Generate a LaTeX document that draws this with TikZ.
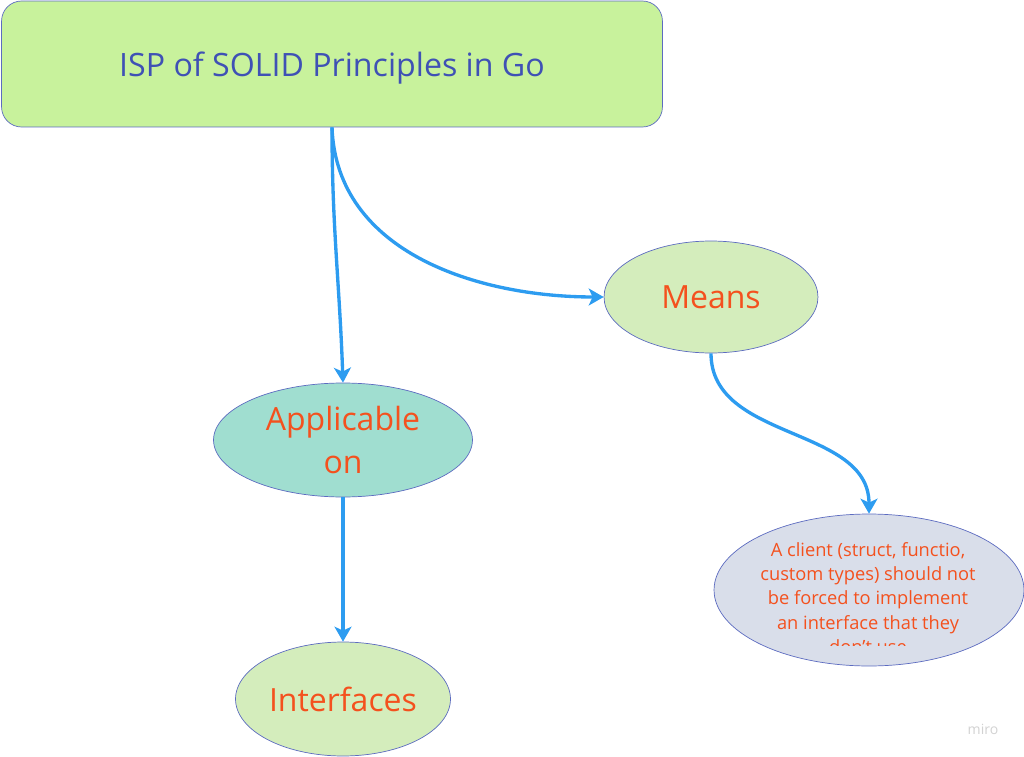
\documentclass[tikz,border=0pt]{standalone}
\usepackage{fontspec}
\setmainfont{Open Sans}
\usetikzlibrary{positioning,arrows.meta,shapes.geometric}
\definecolor{titlefill}{RGB}{200,242,156}
\definecolor{rim}{RGB}{92,107,192}
\definecolor{titleink}{RGB}{63,81,181}
\definecolor{redink}{RGB}{244,81,30}
\definecolor{greenfill}{RGB}{212,237,188}
\definecolor{tealfill}{RGB}{160,222,208}
\definecolor{greyfill}{RGB}{217,222,234}
\definecolor{link}{RGB}{45,156,240}

\begin{document}
\begin{tikzpicture}[x=0.02cm,y=-0.02cm,>={Stealth[length=3mm,width=3.4mm,inset=0.8mm]},
  bubble/.style={ellipse,draw=rim,inner sep=0pt,text=redink,font=\fontsize{18.2}{25}\selectfont,align=center},
  flow/.style={->,link,line width=1.9pt}]
\useasboundingbox (0,0) rectangle (1024,757);
\node[draw=rim,fill=titlefill,rounded corners=0.4cm,minimum width=13.22cm,minimum height=2.52cm,
  text depth=0pt,text=titleink,font=\fontsize{18.3}{22}\selectfont] (title) at (332,64) {ISP of SOLID Principles in Go};
\node[bubble,fill=greenfill,minimum width=4.28cm,minimum height=2.24cm] (means) at (711,297) {Means};
\node[bubble,fill=tealfill,minimum width=5.18cm,minimum height=2.28cm] (appl) at (343,440) {\raisebox{-2pt}{Applicable}\\\raisebox{-2pt}{on}};
\node[bubble,fill=greenfill,minimum width=4.3cm,minimum height=2.28cm] (iface) at (343,699) {Interfaces};
\node[bubble,fill=greyfill,minimum width=6.2cm,minimum height=3.04cm] (client) at (869,590) {};
% the last line is cut off by the ellipse's text area
\begin{scope}
\clip (714,514) rectangle (1024,645);
\node[text=redink,align=center,font=\fontsize{10.4}{13.9}\selectfont] (clienttxt) at (868,598)
  {A client (struct, functio,\\custom types) should not\\be forced to implement\\an interface that they\\don't use};
\end{scope}
\node[text=gray!35,font=\fontsize{8}{8}\selectfont] (wm) at (983,729) {miro};
\draw[flow] (title.south) to[out=-90,in=92] (appl.north);
\draw[flow] (title.south) to[out=-88,in=180] (means.west);
\draw[flow] (means.south) to[out=-90,in=90] (client.north);
\draw[flow] (appl.south) -- (iface.north);
\end{tikzpicture}
\end{document}
